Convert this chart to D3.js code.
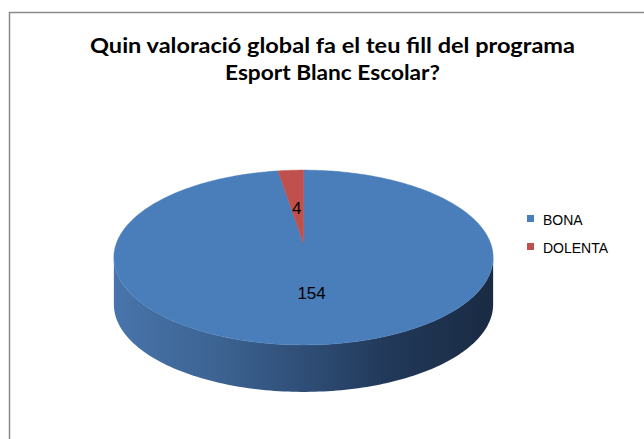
<!DOCTYPE html>
<html>
<head>
<meta charset="utf-8">
<script src="https://cdn.jsdelivr.net/npm/d3@7"></script>
<style>
  body { margin: 0; background: #fff; }
</style>
</head>
<body>
<div id="mount"></div>
<script>
'use strict';

// data
const categories = ['BONA', 'DOLENTA'];
const values = [154, 4];
const colors = ['#4A7EBB', '#C0504D'];
const titleLines = ['Quin valoració global fa el teu fill del programa', 'Esport Blanc Escolar?'];

const width = 644, height = 439;

const svg = d3.select('#mount').append('svg')
    .attr('width', width)
    .attr('height', height);

// chart frame (runs off the right and bottom of the picture)
svg.append('rect')
    .attr('x', 9.5).attr('y', 12.5)
    .attr('width', 700).attr('height', 500)
    .attr('fill', '#fff')
    .attr('stroke', '#8a8a8a')
    .attr('stroke-width', 1.5);

// title
svg.append('g').selectAll('text')
  .data(titleLines)
  .join('text')
    .attr('x', 332.5)
    .attr('y', (d, i) => 53 + i * 27)
    .attr('text-anchor', 'middle')
    .attr('textLength', (d, i) => i === 0 ? 485 : 215)
    .attr('lengthAdjust', 'spacingAndGlyphs')
    .style('font-family', 'Lato, "Open Sans", sans-serif')
    .style('font-weight', 'bold')
    .style('font-size', '21px')
    .style('fill', '#000')
    .text(d => d);

// 3d pie: unit disc projected with a little perspective
const cx = 303.5, cy = 243, rx = 187, ry = 85, k = 0.166, depth = 47;
const x = d3.scaleLinear().domain([-1, 1]).range([cx - rx, cx + rx]);
const y = d3.scaleLinear().domain([-1, 1]).range([cy - ry, cy + ry]);

function project(a, r, dz) {
  const u = Math.sin(a) * r, v = -Math.cos(a) * r;
  const s = 1 / (1 - k * v);
  return [x(u * s), y(v * s) + (dz || 0)];
}

function arcPoints(a0, a1, r, dz) {
  const n = Math.max(2, Math.ceil(Math.abs(a1 - a0) / 0.02));
  return d3.range(n + 1).map(i => project(a0 + (a1 - a0) * i / n, r, dz));
}

const pie = d3.pie().sort(null).value(d => d);
const arcs = pie(values);

const defs = svg.append('defs');
const grad = defs.append('linearGradient')
    .attr('id', 'side')
    .attr('gradientUnits', 'userSpaceOnUse')
    .attr('x1', cx - rx).attr('x2', cx + rx)
    .attr('y1', 0).attr('y2', 0);
[['0%', '#4874AB'], ['25%', '#3D6594'], ['50%', '#2F4E77'], ['72%', '#22395A'], ['100%', '#1A2B43']]
  .forEach(([o, c]) => grad.append('stop').attr('offset', o).attr('stop-color', c));

// front side wall, between the widest points of the ellipse
const aL = Math.acos(-k), aR = 2 * Math.PI - Math.acos(-k);
const sidePts = arcPoints(aL, aR, 1, 0).concat(arcPoints(aR, aL, 1, depth));
svg.append('path')
    .attr('d', d3.line()(sidePts) + 'Z')
    .attr('fill', 'url(#side)');

// top face slices
svg.append('g').selectAll('path')
  .data(arcs)
  .join('path')
    .attr('d', d => d3.line()([project(0, 0)].concat(arcPoints(d.startAngle, d.endAngle, 1, 0))) + 'Z')
    .attr('fill', (d, i) => colors[i])
    .attr('stroke', (d, i) => colors[i])
    .attr('stroke-width', 0.5);

// value labels
svg.append('g').selectAll('text')
  .data(arcs)
  .join('text')
    .attr('x', d => project((d.startAngle + d.endAngle) / 2, 0.5)[0])
    .attr('y', d => project((d.startAngle + d.endAngle) / 2, 0.5)[1] + 10)
    .attr('text-anchor', 'middle')
    .style('font-family', '"Liberation Sans", Arial, sans-serif')
    .style('font-size', '17px')
    .style('fill', '#000')
    .text(d => d.data);

// legend
const legend = svg.append('g').selectAll('g')
  .data(categories)
  .join('g')
    .attr('transform', (d, i) => `translate(527, ${215 + i * 28})`);

legend.append('rect')
    .attr('width', 7).attr('height', 7)
    .attr('fill', (d, i) => colors[i]);

legend.append('text')
    .attr('x', 16).attr('y', 10)
    .style('font-family', '"Liberation Sans", Arial, sans-serif')
    .style('font-size', '14px')
    .style('fill', '#000')
    .text(d => d);
</script>
</body>
</html>
